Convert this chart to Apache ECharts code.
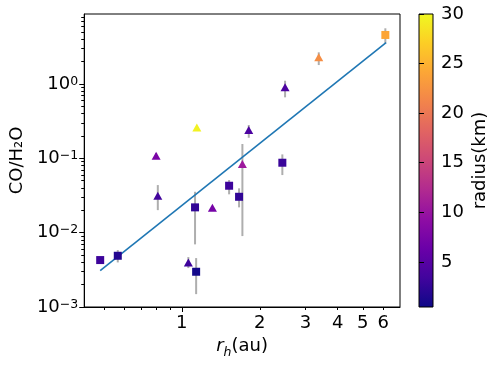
<!DOCTYPE html>
<html>
<head>
<meta charset="utf-8">
<script src="https://cdn.jsdelivr.net/npm/echarts@6/dist/echarts.min.js"></script>
<style>
  html, body { margin: 0; padding: 0; background: #fff; }
  #chart-wrap { width: 498px; height: 366px; }
</style>
</head>
<body>
<div id="chart-wrap"></div>
<script>
// 方形点
var sqX = [0.484, 0.566, 1.125, 1.136, 1.523, 1.664, 2.445, 6.11];
var sqY = [0.00428, 0.00489, 0.0219, 0.00298, 0.0428, 0.0304, 0.0873, 4.57];
var sqR = [3.2, 1.7, 2.5, 0.8, 3.2, 2.5, 3.0, 24];
// 三角形点
var triX = [0.796, 0.808, 1.06, 1.143, 1.313, 1.714, 1.814, 2.505, 3.38];
var triY = [0.108, 0.0314, 0.00398, 0.261, 0.0216, 0.0838, 0.240, 0.902, 2.29];
var triR = [7.6, 3.5, 3.3, 29.5, 7.3, 10.5, 4.2, 4.2, 22];
// 误差棒
var errX = [0.566, 0.796, 0.808, 1.06, 1.125, 1.136, 1.523, 1.664, 1.714, 1.814, 2.505, 2.445, 3.38, 6.11];
var errLo = [0.00398, 0.098, 0.0201, 0.00334, 0.00696, 0.00149, 0.0328, 0.0219, 0.009, 0.189, 0.662, 0.0596, 1.80, 3.53];
var errHi = [0.00583, 0.118, 0.0437, 0.0047, 0.0355, 0.00455, 0.051, 0.0395, 0.156, 0.281, 1.107, 0.113, 2.67, 5.62];
// 拟合线
var fitX = [0.484, 6.15];
var fitY = [0.00309, 3.6];
// 刻度
var xLabels = [1, 2, 3, 4, 5, 6];
var xMinor = [0.5, 0.6, 0.7, 0.8, 0.9, 2, 3, 4, 5, 6];
var yMajor = [0.001, 0.01, 0.1, 1];
var yMinor = [];
[0.001, 0.01, 0.1, 1].forEach(function (d) {
    for (var k = 2; k <= 9; k++) yMinor.push(d * k);
});
var cbTicks = [5, 10, 15, 20, 25, 30];
var rMin = 0.45, rMax = 30;

var plasma = ['#0d0887', '#41049d', '#6a00a8', '#8f0da4', '#b12a90', '#cc4778',
              '#e16462', '#f2844b', '#fca636', '#fcce25', '#f0f921'];

var font = 'DejaVu Sans';
var chart = echarts.init(document.getElementById('chart-wrap'));

function zip3(a, b, c) {
    var out = [];
    for (var i = 0; i < a.length; i++) out.push([a[i], b[i], c[i]]);
    return out;
}

// 10^n 标签
function expLabel(v) {
    var e = Math.round(Math.log10(v));
    var s = String(e).replace('-', '\u2212');
    return '{b|10}{s|' + s + '}';
}

var stops = plasma.map(function (c, i) {
    return { offset: i / (plasma.length - 1), color: c };
});

var option = {
    animation: false,
    textStyle: { fontFamily: font },
    grid: [
        { left: 83, top: 14, width: 317, height: 293, show: true, borderColor: '#000', borderWidth: 1 },
        { left: 419, top: 14, width: 14, height: 293, show: true, borderColor: '#000', borderWidth: 1,
          backgroundColor: new echarts.graphic.LinearGradient(0, 1, 0, 0, stops) }
    ],
    xAxis: [
        {
            type: 'log', gridIndex: 0, min: 0.42, max: 6.96,
            name: '{i|r}{sub|h}{n|(au)}', nameLocation: 'middle', nameGap: 30,
            nameTextStyle: {
                fontFamily: font, fontSize: 18, color: '#000',
                rich: {
                    i: { fontFamily: font, fontSize: 18, fontStyle: 'italic', color: '#000', lineHeight: 18, verticalAlign: 'top' },
                    sub: { fontFamily: font, fontSize: 12.5, fontStyle: 'italic', color: '#000', lineHeight: 12, padding: [9, 0, 0, 0], verticalAlign: 'top' },
                    n: { fontFamily: font, fontSize: 18, color: '#000', lineHeight: 18, verticalAlign: 'top' }
                }
            },
            axisLine: { show: true, lineStyle: { color: '#000' } },
            axisTick: { length: 3, lineStyle: { color: '#000' }, customValues: xMinor },
            axisLabel: { customValues: xLabels, fontSize: 18, color: '#000', margin: 7, fontFamily: font },
            splitLine: { show: false }
        },
        {
            // 主刻度 1
            type: 'log', gridIndex: 0, min: 0.42, max: 6.96, position: 'bottom',
            axisLine: { show: false },
            axisTick: { length: 5, lineStyle: { color: '#000' }, customValues: [1] },
            axisLabel: { show: false },
            splitLine: { show: false }
        },
        {
            type: 'value', gridIndex: 1, min: 0, max: 1, show: false
        }
    ],
    yAxis: [
        {
            type: 'log', gridIndex: 0, min: 0.001, max: 8.75,
            name: 'CO/H\u2082O', nameLocation: 'middle', nameGap: 56, nameRotate: 90,
            nameTextStyle: { fontFamily: font, fontSize: 18, color: '#000' },
            axisLine: { show: true, lineStyle: { color: '#000' } },
            axisTick: { length: 5, lineStyle: { color: '#000' }, customValues: yMajor },
            axisLabel: {
                customValues: yMajor, margin: 6, color: '#000',
                formatter: expLabel,
                rich: {
                    b: { fontFamily: font, fontSize: 18, color: '#000' },
                    s: { fontFamily: font, fontSize: 12.5, color: '#000', verticalAlign: 'top', lineHeight: 12 }
                }
            },
            splitLine: { show: false }
        },
        {
            // 次刻度
            type: 'log', gridIndex: 0, min: 0.001, max: 8.75, position: 'left',
            axisLine: { show: false },
            axisTick: { length: 3, lineStyle: { color: '#000' }, customValues: yMinor },
            axisLabel: { show: false },
            splitLine: { show: false }
        },
        {
            // 颜色条
            type: 'value', gridIndex: 1, min: rMin, max: rMax, position: 'right',
            name: 'radius(km)', nameLocation: 'middle', nameGap: 38, nameRotate: 90,
            nameTextStyle: { fontFamily: font, fontSize: 18, color: '#000' },
            axisLine: { show: false },
            axisTick: { show: true, length: 5, lineStyle: { color: '#000' }, customValues: cbTicks },
            axisLabel: { customValues: cbTicks, fontSize: 18, color: '#000', margin: 8, fontFamily: font },
            splitLine: { show: false }
        }
    ],
    visualMap: {
        show: false, type: 'continuous', min: rMin, max: rMax, dimension: 2,
        seriesIndex: [2, 3],
        inRange: { color: plasma }
    },
    series: [
        {
            // 误差棒
            type: 'custom', xAxisIndex: 0, yAxisIndex: 0, z: 1,
            data: zip3(errX, errLo, errHi),
            encode: { x: 0, y: [1, 2] },
            renderItem: function (params, api) {
                var p1 = api.coord([api.value(0), api.value(1)]);
                var p2 = api.coord([api.value(0), api.value(2)]);
                return {
                    type: 'line',
                    shape: { x1: p1[0], y1: p1[1], x2: p2[0], y2: p2[1] },
                    style: { stroke: 'rgba(140,140,140,0.7)', lineWidth: 2 }
                };
            }
        },
        {
            // 拟合线
            type: 'line', xAxisIndex: 0, yAxisIndex: 0, z: 2,
            data: [[fitX[0], fitY[0]], [fitX[1], fitY[1]]],
            showSymbol: false, symbol: 'none',
            lineStyle: { color: '#1f77b4', width: 1.6 }
        },
        {
            type: 'scatter', xAxisIndex: 0, yAxisIndex: 0, z: 3,
            symbol: 'rect', symbolSize: 8,
            itemStyle: { opacity: 1 },
            data: zip3(sqX, sqY, sqR)
        },
        {
            type: 'scatter', xAxisIndex: 0, yAxisIndex: 0, z: 3,
            symbol: 'triangle', symbolSize: [9, 8],
            itemStyle: { opacity: 1 },
            data: zip3(triX, triY, triR)
        }
    ]
};
chart.setOption(option);
</script>
</body>
</html>
